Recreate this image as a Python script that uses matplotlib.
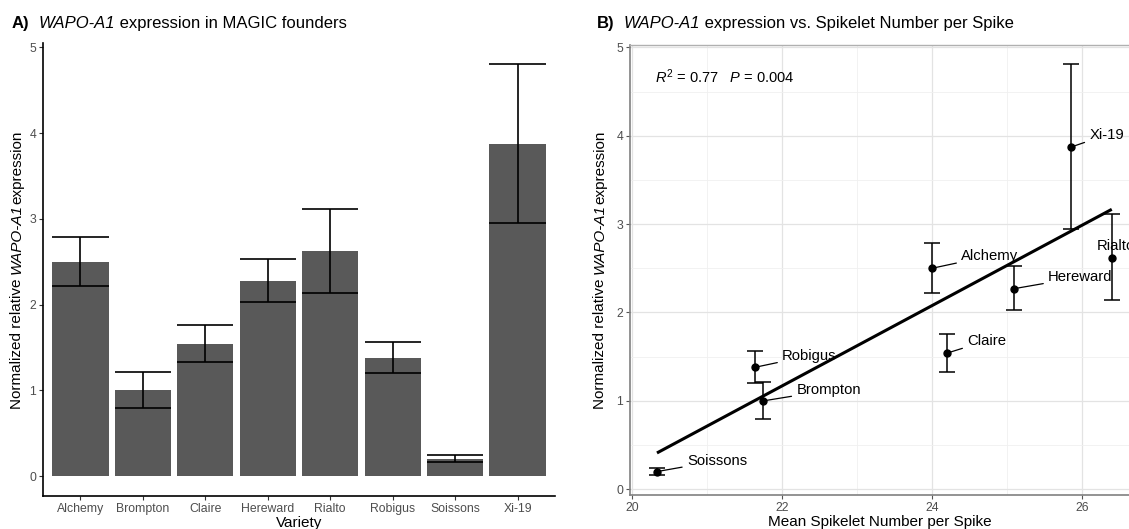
import matplotlib
matplotlib.use("Agg")
import matplotlib.pyplot as plt
from matplotlib.ticker import MultipleLocator
import numpy as np

plt.rcParams['font.family'] = ['Liberation Sans', 'DejaVu Sans']
plt.rcParams['mathtext.fontset'] = 'custom'
plt.rcParams['mathtext.rm'] = 'Liberation Sans'
plt.rcParams['mathtext.it'] = 'Liberation Sans:italic'
plt.rcParams['mathtext.bf'] = 'Liberation Sans:bold'

# ---- data ----
varieties = ["Alchemy", "Brompton", "Claire", "Hereward", "Rialto", "Robigus", "Soissons", "Xi-19"]
expr_mean = [2.50, 1.00, 1.54, 2.27, 2.62, 1.38, 0.20, 3.87]
expr_low = [2.22, 0.79, 1.33, 2.03, 2.14, 1.20, 0.16, 2.95]
expr_high = [2.79, 1.21, 1.76, 2.53, 3.11, 1.56, 0.24, 4.81]
spikelets = [24.00, 21.75, 24.20, 25.10, 26.40, 21.64, 20.33, 25.85]
# label anchor (left edge, centre) for each variety in panel B
label_x = [24.39, 22.19, 24.47, 25.55, 26.20, 22.00, 20.73, 26.10]
label_y = [2.64, 1.12, 1.68, 2.40, 2.75, 1.51, 0.32, 4.01]
r2_text = r"$R^{2}$ = 0.77   $P$ = 0.004"
title_a = [("A)", 'normal', 'bold'), ("  ", 'normal', 'normal'), ("WAPO-A1", 'italic', 'normal'),
           (" expression in MAGIC founders", 'normal', 'normal')]
title_b = [("B)", 'normal', 'bold'), ("  ", 'normal', 'normal'), ("WAPO-A1", 'italic', 'normal'),
           (" expression vs. Spikelet Number per Spike", 'normal', 'normal')]
ylab = [("Normalized relative ", 'normal', 'normal'), ("WAPO-A1", 'italic', 'normal'),
        ("expression", 'normal', 'normal')]

W, H = 1129, 529
fig = plt.figure(figsize=(W / 100, H / 100), dpi=100)
renderer = fig.canvas.get_renderer()

tick_col = '#4d4d4d'


def piece_width(s, fontsize, style, weight):
    t1 = fig.text(0, 0, "|" + s + "|", fontsize=fontsize, fontstyle=style, fontweight=weight)
    t2 = fig.text(0, 0, "||", fontsize=fontsize, fontstyle=style, fontweight=weight)
    w = t1.get_window_extent(renderer).width - t2.get_window_extent(renderer).width
    t1.remove()
    t2.remove()
    return w


def draw_pieces(x, y, pieces, fontsize, vertical=False, centered=False):
    widths = [piece_width(s, fontsize, st, wt) for s, st, wt in pieces]
    total = sum(widths)
    pos = (y if vertical else x) - (total / 2 if centered else 0)
    for (s, st, wt), w in zip(pieces, widths):
        if vertical:
            fig.text(x / W, pos / H, s, fontsize=fontsize, fontstyle=st, fontweight=wt,
                     rotation=90, rotation_mode='anchor', ha='left', va='center')
        else:
            fig.text(pos / W, y / H, s, fontsize=fontsize, fontstyle=st, fontweight=wt,
                     ha='left', va='baseline')
        pos += w


# ---------------- Panel A ----------------
axA = fig.add_axes([43 / W, 33 / H, 512 / W, 453 / H])
xs = np.arange(len(varieties))
axA.bar(xs, expr_mean, width=0.9, color='#595959', zorder=2)
axA.vlines(xs, expr_low, expr_high, color='black', lw=1.2, zorder=3)
axA.hlines(expr_low, xs - 0.45, xs + 0.45, color='black', lw=1.2, zorder=3)
axA.hlines(expr_high, xs - 0.45, xs + 0.45, color='black', lw=1.2, zorder=3)
axA.set_xlim(-0.6, len(varieties) - 0.4)
axA.set_ylim(-0.233, 5.05)
axA.set_xticks(xs)
axA.set_xticklabels(varieties)
axA.set_yticks([0, 1, 2, 3, 4, 5])
for s in ['top', 'right']:
    axA.spines[s].set_visible(False)
for s in ['left', 'bottom']:
    axA.spines[s].set_linewidth(1.2)
    axA.spines[s].set_color('black')
axA.tick_params(axis='both', colors='#333333', labelcolor=tick_col, labelsize=8.8,
                length=3, width=0.8, pad=2)
axA.set_xlabel("Variety", fontsize=11, labelpad=1)

# ---------------- Panel B ----------------
axB = fig.add_axes([630 / W, 34 / H, 499 / W, 450.3 / H])
axB.set_xlim(19.97, 26.63)
axB.set_ylim(-0.065, 5.03)
axB.xaxis.set_major_locator(MultipleLocator(2))
axB.xaxis.set_minor_locator(MultipleLocator(1))
axB.yaxis.set_major_locator(MultipleLocator(1))
axB.yaxis.set_minor_locator(MultipleLocator(0.5))
axB.grid(which='major', color='#e3e3e3', lw=0.9, zorder=0)
axB.grid(which='minor', color='#f0f0f0', lw=0.6, zorder=0)
axB.set_axisbelow(True)
axB.spines['right'].set_visible(False)
axB.spines['top'].set_color('#b0b0b0')
axB.spines['top'].set_linewidth(1.0)
for s in ['left', 'bottom']:
    axB.spines[s].set_color('#808080')
    axB.spines[s].set_linewidth(1.2)
axB.tick_params(axis='both', which='major', colors='#555555', labelcolor=tick_col,
                labelsize=8.8, length=3, width=0.8, pad=2)
axB.tick_params(axis='both', which='minor', length=0)

# regression line over data range
coef = np.polyfit(spikelets, expr_mean, 1)
xr = np.array([min(spikelets), max(spikelets)])
axB.plot(xr, np.polyval(coef, xr), color='black', lw=2.2, zorder=3, solid_capstyle='butt')

yerr = [np.array(expr_mean) - np.array(expr_low), np.array(expr_high) - np.array(expr_mean)]
axB.errorbar(spikelets, expr_mean, yerr=yerr, fmt='o', color='black', ms=5,
             capsize=5.5, elinewidth=1.1, capthick=1.1, zorder=4)

for name, px, py, lx, ly in zip(varieties, spikelets, expr_mean, label_x, label_y):
    axB.annotate(name, xy=(px, py), xytext=(lx, ly), fontsize=10.7, va='center', ha='left',
                 arrowprops=dict(arrowstyle='-', color='black', lw=0.9, shrinkA=1.5, shrinkB=0.5),
                 zorder=5, annotation_clip=False)

axB.text(20.3, 4.67, r2_text, fontsize=10.5, va='center', ha='left')
axB.set_xlabel("Mean Spikelet Number per Spike", fontsize=11, labelpad=1)

# ---------------- y labels & titles (mixed styles) ----------------
draw_pieces(17, H - (43 + 496) / 2, ylab, 11, vertical=True, centered=True)
draw_pieces(600, H - (44.7 + 495) / 2, ylab, 11, vertical=True, centered=True)
draw_pieces(12, H - 28, title_a, 12)
draw_pieces(597, H - 28, title_b, 12)

fig.savefig("out.png", dpi=100)
